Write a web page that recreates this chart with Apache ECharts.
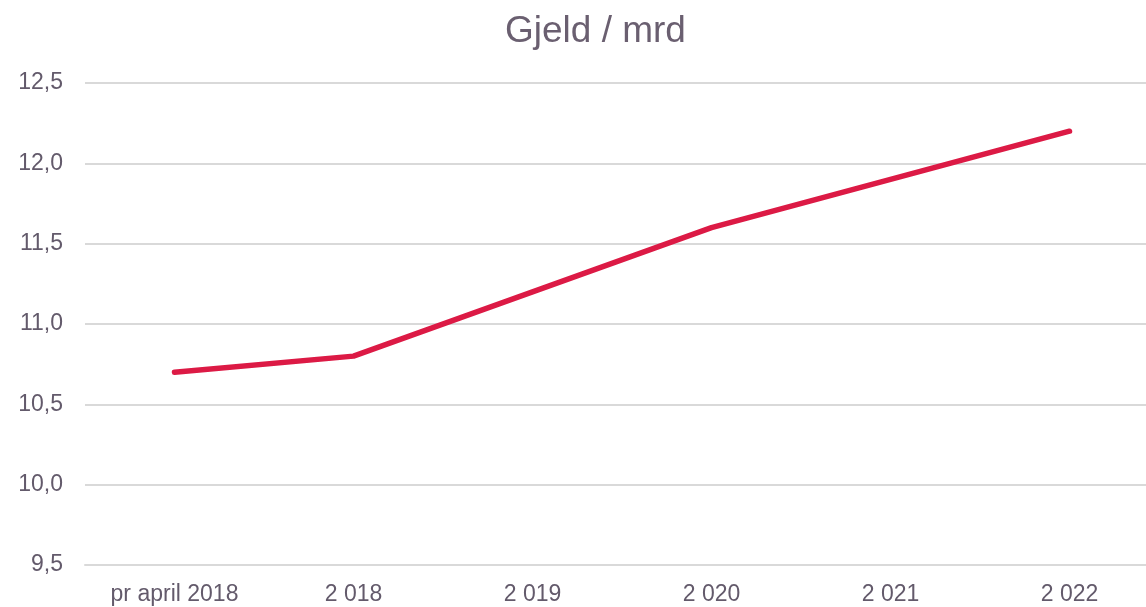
<!DOCTYPE html>
<html>
<head>
<meta charset="utf-8" />
<title>Gjeld / mrd</title>
<script src="https://cdn.jsdelivr.net/npm/echarts@6/dist/echarts.min.js"></script>
<style>
	html, body { margin: 0; padding: 0; background: #fff; }
	#chart { width: 1146px; height: 607px; }
</style>
</head>
<body>
<div id="chart"></div>
<script>
// kategorier og verdier (mrd)
const categories = ['pr april 2018', '2 018', '2 019', '2 020', '2 021', '2 022'];
const gjeld = [10.7, 10.8, 11.2, 11.6, 11.9, 12.2];

const textColor = '#635a6b';
const chart = echarts.init(document.getElementById('chart'));
chart.setOption({
	animation: false,
	title: {
		text: 'Gjeld / mrd',
		left: 500, //midt over plottet, ikke over lerretet
		top: 8,
		textStyle: { color: '#6a5f70', fontSize: 37, fontWeight: 'normal', fontFamily: 'Liberation Sans' }
	},
	// plottet går litt utenfor høyre kant, som i originalen
	grid: { left: 85, right: -13, top: 83, bottom: 42, outerBoundsMode: 'none' },
	xAxis: {
		type: 'category',
		data: categories,
		boundaryGap: true,
		axisLine: { show: true, lineStyle: { color: '#d9d9d9', width: 2 } },
		axisTick: { show: false },
		axisLabel: { color: textColor, fontSize: 23, fontFamily: 'Liberation Sans', margin: 18 }
	},
	yAxis: {
		type: 'value',
		min: 9.5,
		max: 12.5,
		interval: 0.5,
		axisLine: { show: false },
		axisTick: { show: false },
		splitLine: { lineStyle: { color: '#d9d9d9', width: 2 } },
		axisLabel: {
			color: textColor, fontSize: 23, fontFamily: 'Liberation Sans', margin: 22,
			padding: [4, 0, 0, 0],
			formatter: function (v) { return v.toFixed(1).replace('.', ','); }
		}
	},
	series: [{
		type: 'line',
		data: gjeld,
		symbol: 'none',
		lineStyle: { color: '#dc1a45', width: 5.5, cap: 'round', join: 'round' }
	}]
});
</script>
</body>
</html>
